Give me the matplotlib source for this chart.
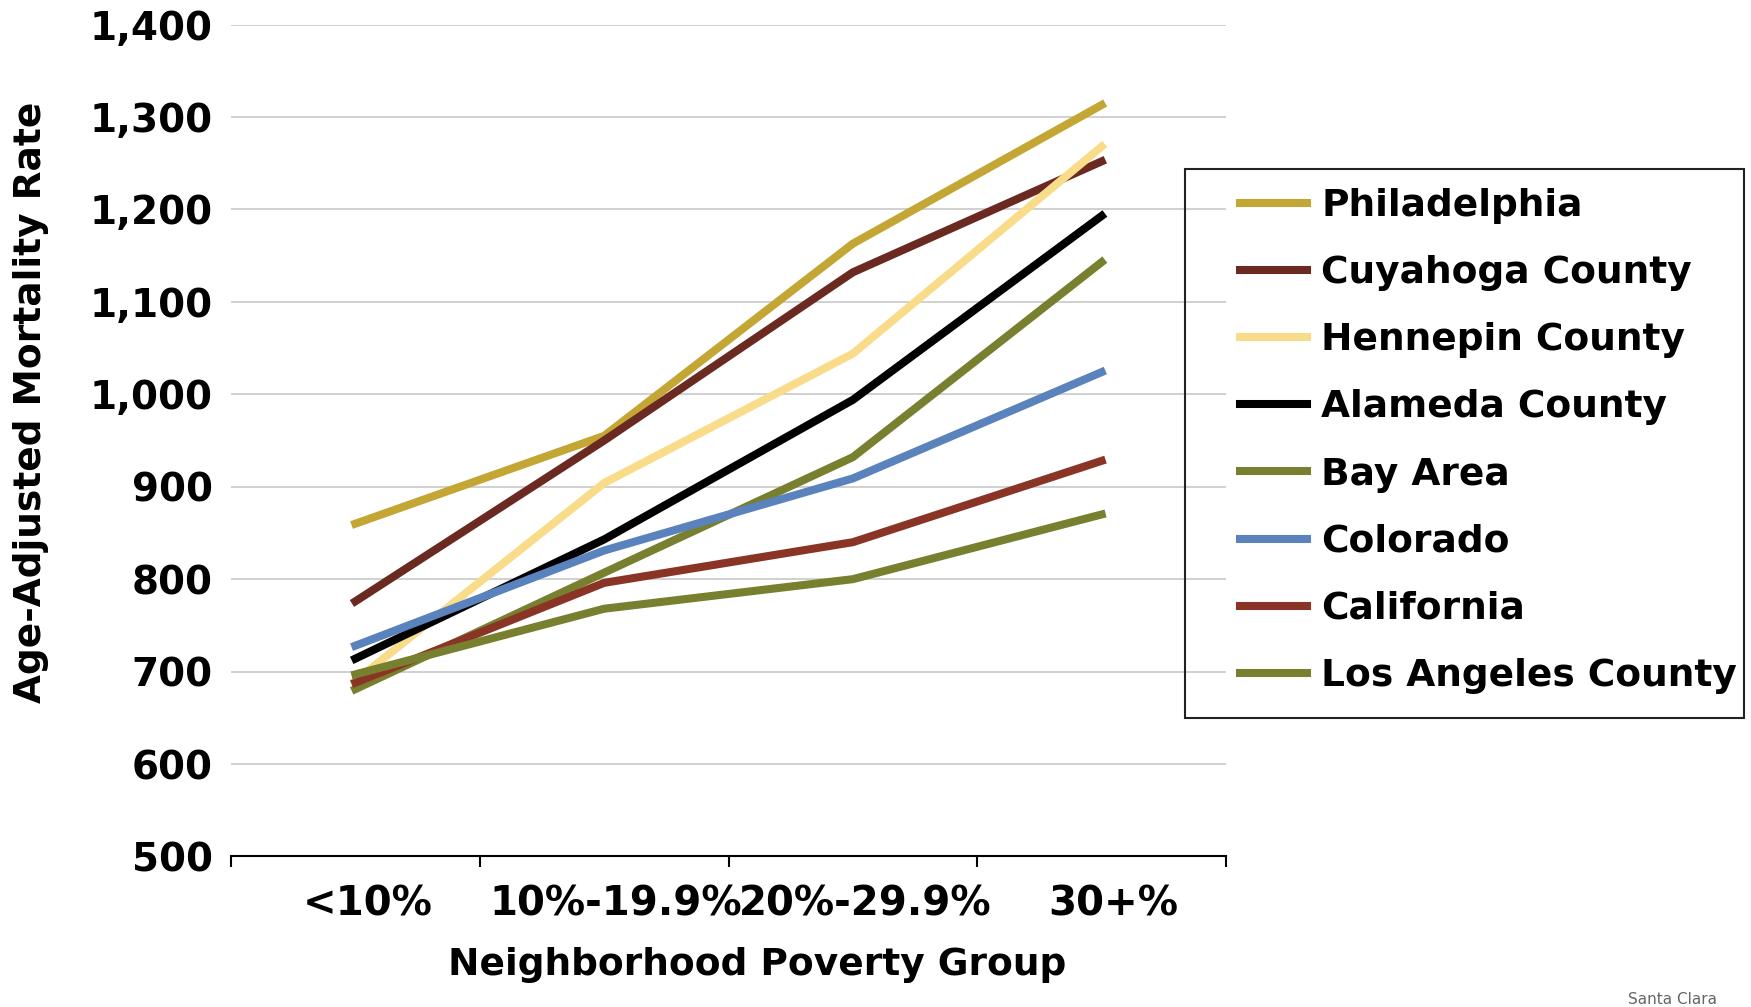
import matplotlib
matplotlib.use('Agg')
import matplotlib.pyplot as plt
import matplotlib.transforms as mtransforms
from matplotlib.patches import Rectangle

# data
groups = ['<10%', '10%-19.9%', '20%-29.9%', '30+%']
series_names = ['Philadelphia', 'Cuyahoga County', 'Hennepin County', 'Alameda County',
                'Bay Area', 'Colorado', 'California', 'Los Angeles County']
philadelphia = [860, 955, 1163, 1313]
cuyahoga = [776, 950, 1132, 1252]
hennepin = [690, 904, 1044, 1268]
alameda = [714, 843, 994, 1193]
bay_area = [681, 807, 932, 1143]
colorado = [728, 831, 909, 1024]
california = [688, 796, 840, 928]
los_angeles = [697, 768, 800, 870]
colors = ['#C3A633', '#6B2A21', '#F9DC8A', '#000000',
          '#78802F', '#5A82BC', '#8A3425', '#78802F']
yticks = [500, 600, 700, 800, 900, 1000, 1100, 1200, 1300, 1400]
ytick_labels = ['500', '600', '700', '800', '900', '1,000', '1,100', '1,200', '1,300', '1,400']

plt.rcParams['font.family'] = ['DejaVu Sans']
plt.rcParams['font.weight'] = 'bold'

fig = plt.figure(figsize=(17.51, 10.07), dpi=100)
ax = fig.add_axes([0.1319, 0.1495, 0.5683, 0.8261])

values = [philadelphia, cuyahoga, hennepin, alameda, bay_area, colorado, california, los_angeles]
xpos = [i + 0.5 for i in range(len(groups))]
lines = []
for name, vals, c in zip(series_names, values, colors):
    ln, = ax.plot(xpos, vals, color=c, lw=5.8, label=name, solid_joinstyle='round')
    lines.append(ln)

ax.set_xlim(0, len(groups))
ax.set_ylim(500, 1400)
ax.set_yticks(yticks)
ax.set_yticklabels(ytick_labels, fontsize=28, fontweight='bold')
ax.tick_params(axis='y', length=0, pad=13)
ax.yaxis.grid(True, color='#C8C8C8', lw=1.2)
ax.set_axisbelow(True)

ax.set_xticks(range(len(groups) + 1))
ax.set_xticklabels([])
ax.set_xticks(xpos, minor=True)
ax.set_xticklabels(groups, minor=True, fontsize=29, fontweight='bold')
ax.tick_params(axis='x', which='major', length=8, width=1.5, direction='out')
ax.tick_params(axis='x', which='minor', length=0, pad=20)
# category labels sit a little right of the point positions in the original
shift = mtransforms.ScaledTranslation(12 / 100, 0, fig.dpi_scale_trans)
for lab in ax.get_xticklabels(minor=True):
    lab.set_transform(lab.get_transform() + shift)

for s in ['top', 'right', 'left']:
    ax.spines[s].set_visible(False)
ax.spines['bottom'].set_linewidth(1.5)

fig.text(0.0177, 0.6008, 'Age-Adjusted Mortality Rate', rotation=90,
         ha='center', va='center', fontsize=27, fontweight='bold')
fig.text(0.4323, 0.0417, 'Neighborhood Poverty Group',
         ha='center', va='center', fontsize=27, fontweight='bold')

# legend box drawn by hand, entries without frame
fig.patches.append(Rectangle((0.6768, 0.2870), 0.3192, 0.5452, transform=fig.transFigure,
                             fill=False, edgecolor='#222222', lw=1.5))
fig.legend(handles=lines, loc='upper left', bbox_to_anchor=(0.7082, 0.8133),
           frameon=False, borderpad=0, borderaxespad=0,
           handlelength=1.79, handletextpad=0.37, labelspacing=0.83,
           prop={'weight': 'bold', 'size': 27})

fig.text(0.93, 0.003, 'Santa Clara', color='#666666', fontsize=11, fontweight='normal')

plt.savefig('out.png', dpi=100)
